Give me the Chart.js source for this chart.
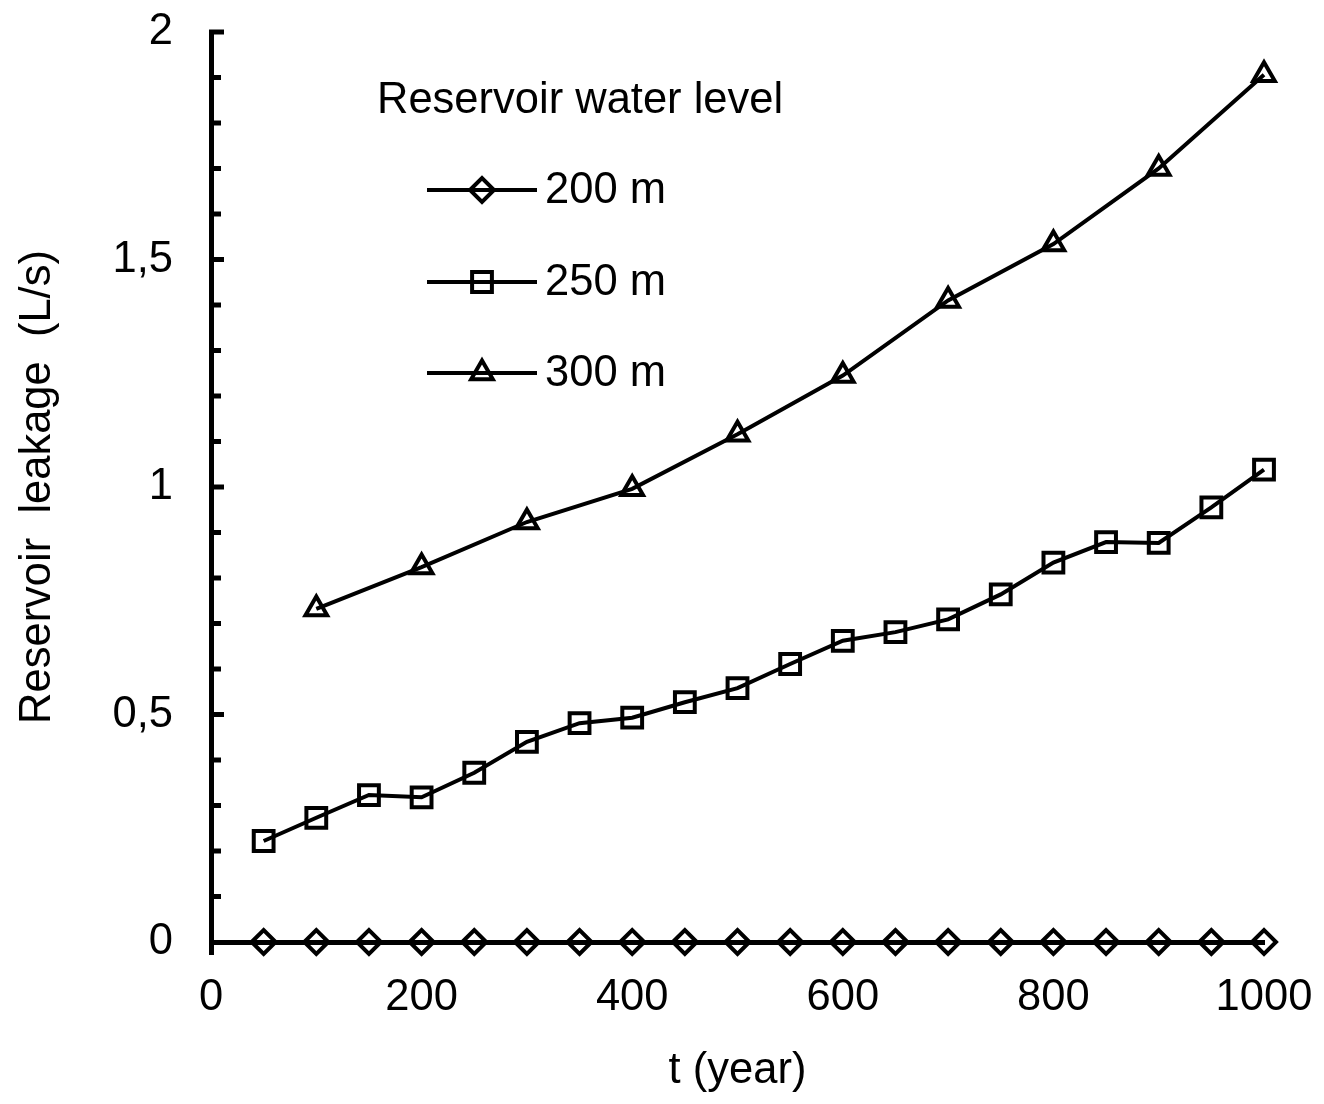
<!DOCTYPE html>
<html>
<head>
<meta charset="utf-8">
<script src="https://cdn.jsdelivr.net/npm/chart.js@4.4.0/dist/chart.umd.min.js"></script>
<style>
  html, body { margin: 0; padding: 0; background: #fff; }
  #wrap { width: 1324px; height: 1104px; }
</style>
</head>
<body>
<div id="wrap"><canvas id="c" width="1324" height="1104"></canvas></div>
<script>
// ---- data ----
const years200 = [50,100,150,200,250,300,350,400,450,500,550,600,650,700,750,800,850,900,950,1000];
const leak200  = [0,0,0,0,0,0,0,0,0,0,0,0,0,0,0,0,0,0,0,0];
const years250 = [50,100,150,200,250,300,350,400,450,500,550,600,650,700,750,800,850,900,950,1000];
const leak250  = [0.222,0.273,0.323,0.318,0.372,0.440,0.481,0.493,0.527,0.558,0.611,0.662,0.681,0.709,0.764,0.834,0.879,0.877,0.955,1.038];
const years300 = [100,200,300,400,500,600,700,800,900,1000];
const leak300  = [0.732,0.824,0.923,0.996,1.116,1.245,1.410,1.534,1.700,1.906];
const seriesNames = ['200 m','250 m','300 m'];
const legendTitle = 'Reservoir water level';
const xTitle = 't (year)';
const yTitle = 'Reservoir  leakage  (L/s)';
const xTicks = [0,200,400,600,800,1000];
const yTicks = [0,0.5,1,1.5,2];

const FONT = "'Liberation Sans', Arial, sans-serif";
const FS = 43.5;
const toPts = (xs, ys) => xs.map((x, i) => ({x: x, y: ys[i]}));

const styles = [
  {pointStyle: 'rectRot', radius: 12},
  {pointStyle: 'rect', radius: 14},
  {pointStyle: 'triangle', radius: 12.5}
];

function ds(label, pts, st) {
  return {
    label: label, data: pts,
    borderColor: '#000', borderWidth: 4,
    pointStyle: st.pointStyle, pointRadius: st.radius,
    pointBorderColor: '#000', pointBackgroundColor: 'rgba(0,0,0,0)',
    pointBorderWidth: 4, clip: false, tension: 0
  };
}

const minorTicks = {
  id: 'minorTicks',
  afterDraw(chart) {
    const ys = chart.scales.y, ctx = chart.ctx;
    const x0 = chart.chartArea.left;
    ctx.save();
    ctx.strokeStyle = '#000';
    ctx.lineWidth = 5;
    for (let i = 1; i <= 20; i++) {
      const v = i / 10;
      const py = ys.getPixelForValue(v);
      const len = (i % 5 === 0) ? 13 : 10;
      ctx.beginPath();
      ctx.moveTo(x0 - 2, py);
      ctx.lineTo(x0 + len, py);
      ctx.stroke();
    }
    ctx.restore();
  }
};

const customLegend = {
  id: 'customLegend',
  afterDraw(chart) {
    const ctx = chart.ctx;
    ctx.save();
    ctx.fillStyle = '#000';
    ctx.font = FS + 'px ' + FONT;
    ctx.textBaseline = 'middle';
    ctx.textAlign = 'left';
    ctx.fillText(legendTitle, 377, 101);
    const rows = [190, 282, 373];
    chart.data.datasets.forEach((d, i) => {
      const y = rows[i];
      ctx.strokeStyle = '#000';
      ctx.lineWidth = 4;
      ctx.beginPath();
      ctx.moveTo(427, y);
      ctx.lineTo(537, y);
      ctx.stroke();
      ctx.lineWidth = 4;
      ctx.strokeStyle = '#000';
      ctx.fillStyle = 'rgba(0,0,0,0)';
      Chart.helpers.drawPoint(ctx, {pointStyle: d.pointStyle, radius: d.pointRadius, rotation: 0, borderWidth: 4}, 482, y);
      ctx.fillStyle = '#000';
      ctx.fillText(d.label, 545, y + 1);
    });
    ctx.restore();
  }
};

new Chart(document.getElementById('c'), {
  type: 'line',
  data: {
    datasets: [
      ds(seriesNames[0], toPts(years200, leak200), styles[0]),
      ds(seriesNames[1], toPts(years250, leak250), styles[1]),
      ds(seriesNames[2], toPts(years300, leak300), styles[2])
    ]
  },
  options: {
    responsive: false,
    animation: false,
    devicePixelRatio: 1,
    layout: { padding: { top: 32, right: 60, left: 0, bottom: 0 } },
    plugins: { legend: { display: false }, tooltip: { enabled: false } },
    scales: {
      x: {
        type: 'linear', min: 0, max: 1000,
        afterBuildTicks: (s) => { s.ticks = xTicks.map(v => ({value: v})); },
        border: { display: true, color: '#000', width: 5 },
        grid: {
          drawOnChartArea: false, drawTicks: true, tickLength: 13, tickWidth: 5,
          color: (c) => (c.tick && c.tick.value === 0) ? '#000' : 'rgba(0,0,0,0)'
        },
        ticks: { color: '#000', font: { family: FONT, size: FS }, padding: 17, maxRotation: 0,
                 callback: (v) => String(v) },
        title: { display: true, text: xTitle, color: '#000', font: { family: FONT, size: FS }, padding: { top: 4, bottom: 7 } },
        afterFit: (s) => { s.height = 162; s.paddingLeft = 0; s.paddingRight = 0; }
      },
      y: {
        type: 'linear', min: 0, max: 2,
        afterBuildTicks: (s) => { s.ticks = yTicks.map(v => ({value: v})); },
        border: { display: true, color: '#000', width: 5 },
        grid: { drawOnChartArea: false, drawTicks: false },
        ticks: {
          color: '#000', font: { family: FONT, size: FS }, padding: 38,
          callback: (v) => String(v).replace('.', ',')
        },
        title: { display: true, text: yTitle, color: '#000', font: { family: FONT, size: FS }, padding: { top: 12, bottom: 4 } },
        afterFit: (s) => { s.width = 211; s.paddingTop = 0; s.paddingBottom = 0; }
      }
    }
  },
  plugins: [minorTicks, customLegend]
});
</script>
</body>
</html>
